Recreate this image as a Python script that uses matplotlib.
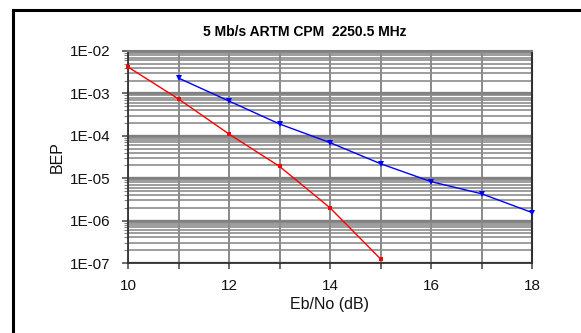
import matplotlib
matplotlib.use("Agg")
import matplotlib.pyplot as plt
from matplotlib.lines import Line2D
from matplotlib.ticker import LogLocator, FixedLocator, FuncFormatter
import numpy as np

plt.rcParams['font.family'] = ['Liberation Sans', 'DejaVu Sans']

# Data
ebno_red = [10, 11, 12, 13, 14, 15]
bep_red = [4.2e-3, 7.4e-4, 1.1e-4, 1.9e-5, 2.0e-6, 1.25e-7]
ebno_blue = [11, 12, 13, 14, 15, 16, 17, 18]
bep_blue = [2.3e-3, 6.6e-4, 1.9e-4, 6.9e-5, 2.2e-5, 8.3e-6, 4.3e-6, 1.55e-6]
title = "5 Mb/s ARTM CPM  2250.5 MHz"
xlabel = "Eb/No (dB)"
ylabel = "BEP"
xticks = [10, 12, 14, 16, 18]

fig = plt.figure(figsize=(5.81, 3.33), dpi=100)
ax = fig.add_axes([128/581, 1-263/333, (532-128)/581, (263-51)/333])

ax.set_yscale('log')
ax.set_xlim(10, 18)
ax.set_ylim(1e-7, 1e-2)

# grid
ax.set_xticks(xticks)
ax.xaxis.set_minor_locator(FixedLocator(np.arange(10, 19, 1)))
ax.yaxis.set_major_locator(LogLocator(base=10, numticks=20))
ax.yaxis.set_minor_locator(LogLocator(base=10, subs=np.arange(2, 10), numticks=50))
ax.yaxis.set_major_formatter(FuncFormatter(lambda v, p: "1E%03d" % int(round(np.log10(v))) if v > 0 else ""))
ax.yaxis.set_minor_formatter(FuncFormatter(lambda v, p: ""))
ax.grid(True, which='major', axis='y', color='#808080', linewidth=2.4)
ax.grid(True, which='minor', axis='y', color='#8c8c8c', linewidth=1.2)
ax.grid(True, which='both', axis='x', color='#808080', linewidth=1.3)
ax.set_axisbelow(True)

ax.plot(ebno_red, bep_red, color='#ff0000', linewidth=1.0, marker='s', markersize=3.5,
        markeredgewidth=0, clip_on=False, zorder=5)
ax.plot(ebno_blue, bep_blue, color='#0000ff', linewidth=1.0, marker='v', markersize=4.5,
        markeredgewidth=0, clip_on=False, zorder=5)

for s in ['left', 'bottom']:
    ax.spines[s].set_color('#303030')
    ax.spines[s].set_linewidth(1.3)
ax.spines['right'].set_color('#303030')
ax.spines['right'].set_linewidth(1.5)
ax.spines['top'].set_color('#808080')
ax.spines['top'].set_linewidth(1.5)

ax.tick_params(axis='both', which='major', direction='out', length=4, width=1.2,
               color='#505050', labelsize=11, labelcolor='#111111')
ax.tick_params(axis='y', which='major', pad=8.5)
ax.tick_params(axis='x', which='major', pad=7.5)
ax.tick_params(axis='y', which='minor', direction='out', length=3, width=0.8, color='#808080')
ax.tick_params(axis='x', which='minor', direction='out', length=4, width=1.2, color='#505050')

ax.set_xlabel(xlabel, fontsize=11.5, labelpad=3, color='#111111')
ax.set_ylabel(ylabel, fontsize=11.5, color='#111111')
ax.yaxis.set_label_coords(-0.156, 0.5)

fig.text(305/581, 1-31.5/333, title, fontsize=10, fontweight='bold', ha='center', va='center')

# outer border lines (left and top)
fig.add_artist(Line2D([13/581, 13/581], [0, 1-10/333], transform=fig.transFigure, color='black', linewidth=2.2))
fig.add_artist(Line2D([13/581, 1], [1-10/333, 1-10/333], transform=fig.transFigure, color='black', linewidth=2.2))

fig.savefig('out.png', dpi=100)
